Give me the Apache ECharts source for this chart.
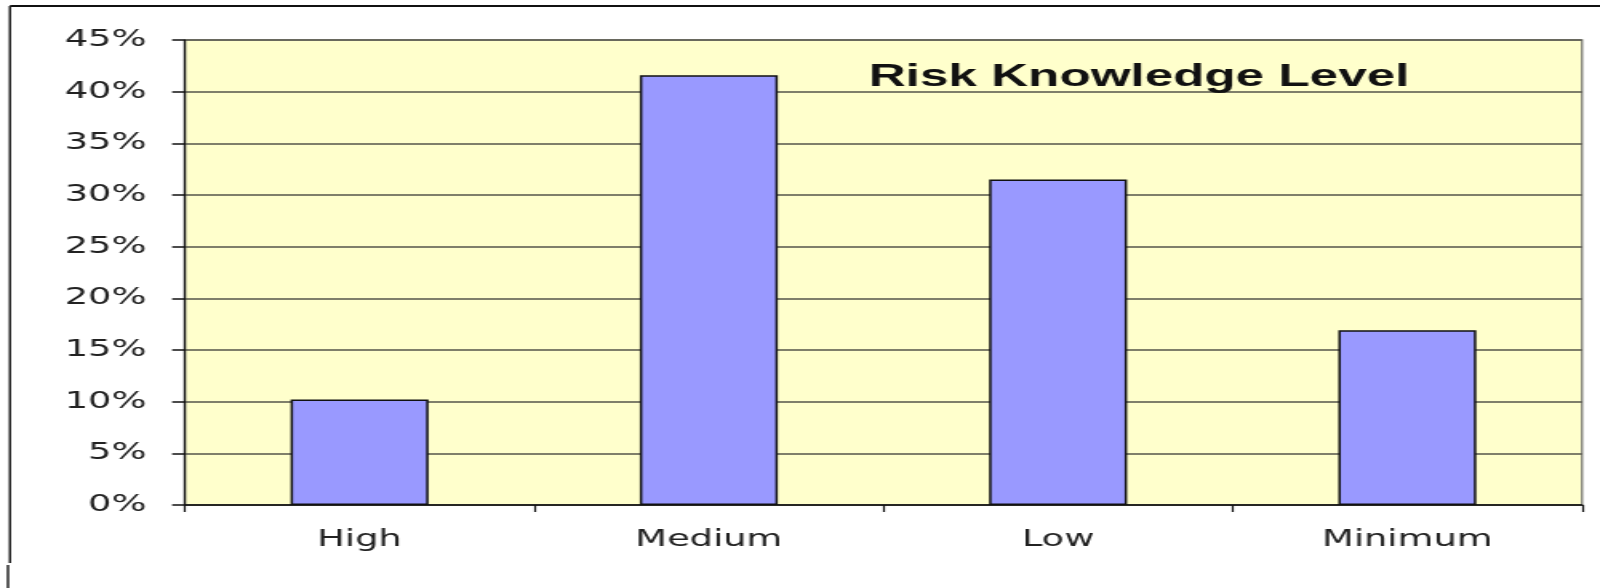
<!DOCTYPE html>
<html>
<head>
<meta charset="utf-8">
<title>Risk Knowledge Level</title>
<script src="https://cdn.jsdelivr.net/npm/echarts@6/dist/echarts.min.js"></script>
<style>
  html, body { margin: 0; padding: 0; background: #ffffff; overflow: hidden; }
  /* the chart is laid out narrow and widened horizontally, giving the wide lettering */
  #chart { width: 1000px; height: 588px; transform: scaleX(1.6); transform-origin: 0 0; }
</style>
</head>
<body>
<div id="chart"></div>
<script>
// Share of respondents at each risk knowledge level (%)
const categories = ['High', 'Medium', 'Low', 'Minimum'];
const shares = [10.2, 41.6, 31.5, 16.9];
const yTicks = { min: 0, max: 45, interval: 5 };
const chartTitle = 'Risk Knowledge Level';

const chart = echarts.init(document.getElementById('chart'), null, { renderer: 'canvas' });

chart.setOption({
  animation: false,
  backgroundColor: '#ffffff',
  title: {
    text: chartTitle,
    left: 538,
    top: 56,
    textStyle: {
      fontFamily: 'Liberation Sans, Arial, sans-serif',
      fontWeight: 'bold',
      fontSize: 32,
      color: '#111111'
    }
  },
  grid: {
    left: 115.6,
    right: 11.25,
    top: 40,
    bottom: 83,
    show: true,
    backgroundColor: '#FFFFCC',
    borderColor: '#8a8a80',
    borderWidth: 1.5
  },
  xAxis: {
    type: 'category',
    data: categories,
    axisLine: { show: true, lineStyle: { color: '#111111', width: 1.5 } },
    axisTick: { show: true, length: 7, alignWithLabel: false, lineStyle: { color: '#111111', width: 1.2 } },
    axisLabel: {
      margin: 24,
      fontFamily: 'DejaVu Sans, sans-serif',
      fontSize: 23,
      color: '#222222'
    }
  },
  yAxis: {
    type: 'value',
    min: yTicks.min,
    max: yTicks.max,
    interval: yTicks.interval,
    axisLine: { show: true, lineStyle: { color: '#111111', width: 1.2 } },
    axisTick: { show: true, length: 8, lineStyle: { color: '#111111', width: 1.5 } },
    axisLabel: {
      margin: 24,
      formatter: '{value}%',
      fontFamily: 'DejaVu Sans, sans-serif',
      fontSize: 23,
      color: '#222222'
    },
    splitLine: { show: true, lineStyle: { color: '#55554a', width: 1.5 } }
  },
  series: [{
    type: 'bar',
    data: shares,
    barWidth: '39.5%',
    itemStyle: {
      color: '#9999FF',
      borderColor: '#111111',
      borderWidth: 1.5
    }
  }],
  graphic: [
    // outer frame: top edge and left edge
    { type: 'line', shape: { x1: 6.25, y1: 6, x2: 1000, y2: 6 }, style: { stroke: '#111111', lineWidth: 2 } },
    { type: 'line', shape: { x1: 6.25, y1: 6, x2: 6.25, y2: 563 }, style: { stroke: '#222222', lineWidth: 1.5 } },
    { type: 'line', shape: { x1: 5, y1: 565, x2: 5, y2: 588 }, style: { stroke: '#222222', lineWidth: 1.5 } }
  ]
});
</script>
</body>
</html>
